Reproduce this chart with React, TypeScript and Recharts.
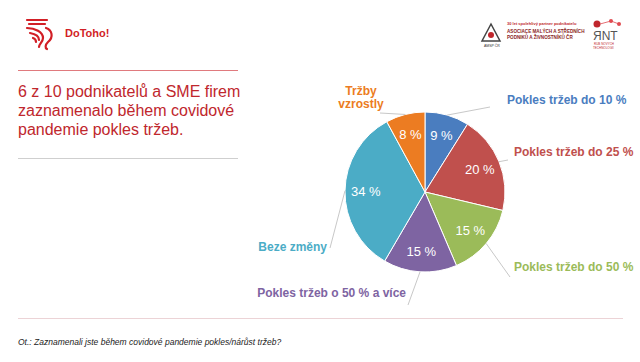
import { Cell, Pie, PieChart } from "recharts";

const categories = [
  "Pokles tržeb do 10 %",
  "Pokles tržeb do 25 %",
  "Pokles tržeb do 50 %",
  "Pokles tržeb o 50 % a více",
  "Beze změny",
  "Tržby vzrostly",
];
const shares = [9, 20, 15, 15, 34, 8];
const sliceColors = ["#4a7dbf", "#c0504d", "#9bbb59", "#7e64a2", "#4bacc6", "#ec7c22"];

const data = categories.map((name, i) => ({ name, value: shares[i] }));

// where each outside label sits, relative to the pie centre
const labelLayout = [
  { lx: 65, ly: -85, tx: 82, ty: -88, anchor: "start", lines: ["Pokles tržeb do 10 %"] },
  { lx: 83, ly: -32, tx: 89, ty: -36, anchor: "start", lines: ["Pokles tržeb do 25 %"] },
  { lx: 85, ly: 85, tx: 89, ty: 79, anchor: "start", lines: ["Pokles tržeb do 50 %"] },
  { lx: -17, ly: 113, tx: -19, ty: 105, anchor: "end", lines: ["Pokles tržeb o 50 % a více"] },
  { lx: -95, ly: 56, tx: -98, ty: 59, anchor: "end", lines: ["Beze změny"] },
  { lx: -45, ly: -79, tx: -64, ty: -97, anchor: "middle", lines: ["Tržby", "vzrostly"] },
];

const RAD = Math.PI / 180;
const FONT = "'Liberation Sans', Arial, sans-serif";

function renderLabel(props: any) {
  const { cx, cy, midAngle, outerRadius, index, value } = props;
  const cos = Math.cos(-midAngle * RAD);
  const sin = Math.sin(-midAngle * RAD);
  const ir = outerRadius * 0.74;
  const ex = cx + outerRadius * cos;
  const ey = cy + outerRadius * sin;
  const lay = labelLayout[index];
  return (
    <g>
      <text
        x={cx + ir * cos}
        y={cy + ir * sin}
        fill="#fff"
        fontSize={13}
        fontFamily={FONT}
        textAnchor="middle"
        dominantBaseline="central"
      >
        {value} %
      </text>
      <line x1={ex} y1={ey} x2={cx + lay.lx} y2={cy + lay.ly} stroke="#c8c8c8" strokeWidth={1} />
      {lay.lines.map((t, k) => (
        <text
          key={k}
          x={cx + lay.tx}
          y={cy + lay.ty + k * 13}
          fill={sliceColors[index]}
          fontSize={12}
          fontWeight="bold"
          fontFamily={FONT}
          textAnchor={lay.anchor}
        >
          {t}
        </text>
      ))}
    </g>
  );
}

function Logos() {
  return (
    <svg width={640} height={60} style={{ position: "absolute", left: 0, top: 0 }}>
      {/* DoToho mark */}
      <g stroke="#d21f26" strokeWidth={2.2} fill="none" strokeLinecap="round">
        <path d="M27 20 h20 M29 24 h16" />
        <path d="M27 28 c8 0 16 4 16 10 c0 4 -4 6 -4 9" />
        <path d="M30 33 c6 1 9 4 9 7" />
        <path d="M33 38 c3 1 3 3 3 4" />
        <path d="M46 28 c6 2 8 9 2 14 c-3 3 -3 6 -1 7" />
      </g>
      <text x={65} y={37} fill="#d21f26" fontSize={11} fontWeight="bold" fontFamily={FONT}>
        DoToho!
      </text>
      {/* AMSP logo */}
      <path d="M491 24 L500 41 L482 41 Z" fill="none" stroke="#444" strokeWidth={1.5} />
      <circle cx={491} cy={35} r={3} fill="#c0272d" />
      <text x={484} y={47} fontSize={3.5} fill="#333" fontFamily={FONT}>AMSP ČR</text>
      <text x={507} y={25} fontSize={4} fill="#c0272d" fontWeight="bold" fontFamily={FONT}>
        30 let spolehlivý partner podnikatelů
      </text>
      <text x={507} y={33} fontSize={4.6} fill="#8a1d22" fontWeight="bold" fontFamily={FONT}>
        ASOCIACE MALÝCH A STŘEDNÍCH
      </text>
      <text x={507} y={39} fontSize={4.6} fill="#8a1d22" fontWeight="bold" fontFamily={FONT}>
        PODNIKŮ A ŽIVNOSTNÍKŮ ČR
      </text>
      {/* RNT logo */}
      <circle cx={597} cy={24} r={3.5} fill="#c0272d" />
      <circle cx={611} cy={21} r={2} fill="#e04a50" />
      <circle cx={619} cy={24} r={2} fill="#e04a50" />
      <path d="M600 24 L611 21 L619 24" stroke="#e04a50" strokeWidth={0.8} fill="none" />
      <text x={593} y={40} fontSize={12} fill="#555" fontFamily={FONT}>
        ЯNT
      </text>
      <text x={594} y={45} fontSize={3} fill="#c0272d" fontFamily={FONT}>RUB NOVÝCH</text>
      <text x={593} y={49} fontSize={3} fill="#c0272d" fontFamily={FONT}>TECHNOLOGIÍ</text>
    </svg>
  );
}

export default function App() {
  return (
    <div
      style={{
        position: "absolute",
        left: 0,
        top: 0,
        width: 640,
        height: 362,
        background: "#fff",
        overflow: "hidden",
        fontFamily: FONT,
      }}
    >
      <Logos />
      <div style={{ position: "absolute", left: 18, top: 70, width: 220, borderTop: "1px solid #e07a7e" }} />
      <div
        style={{
          position: "absolute",
          left: 18,
          top: 82,
          width: 240,
          color: "#c0272d",
          fontSize: 16,
          lineHeight: "19px",
        }}
      >
        6 z 10 podnikatelů a SME firem
        <br />
        zaznamenalo během covidové
        <br />
        pandemie pokles tržeb.
      </div>
      <div style={{ position: "absolute", left: 18, top: 158, width: 220, borderTop: "1px solid #cfcfcf" }} />
      <div style={{ position: "absolute", left: 18, top: 318, width: 605, borderTop: "1px solid #ecd3d6" }} />
      <div
        style={{
          position: "absolute",
          left: 18,
          top: 337,
          fontSize: 8.5,
          fontStyle: "italic",
          color: "#222",
        }}
      >
        Ot.: Zaznamenali jste během covidové pandemie pokles/nárůst tržeb?
      </div>
      <div style={{ position: "absolute", left: 0, top: 0 }}>
        <PieChart width={640} height={362}>
          <Pie
            data={data}
            dataKey="value"
            nameKey="name"
            cx={420}
            cy={187}
            outerRadius={80}
            startAngle={90}
            endAngle={-270}
            stroke="#fff"
            strokeWidth={1}
            label={renderLabel}
            labelLine={false}
            isAnimationActive={false}
          >
            {data.map((d, i) => (
              <Cell key={d.name} fill={sliceColors[i]} />
            ))}
          </Pie>
        </PieChart>
      </div>
    </div>
  );
}
